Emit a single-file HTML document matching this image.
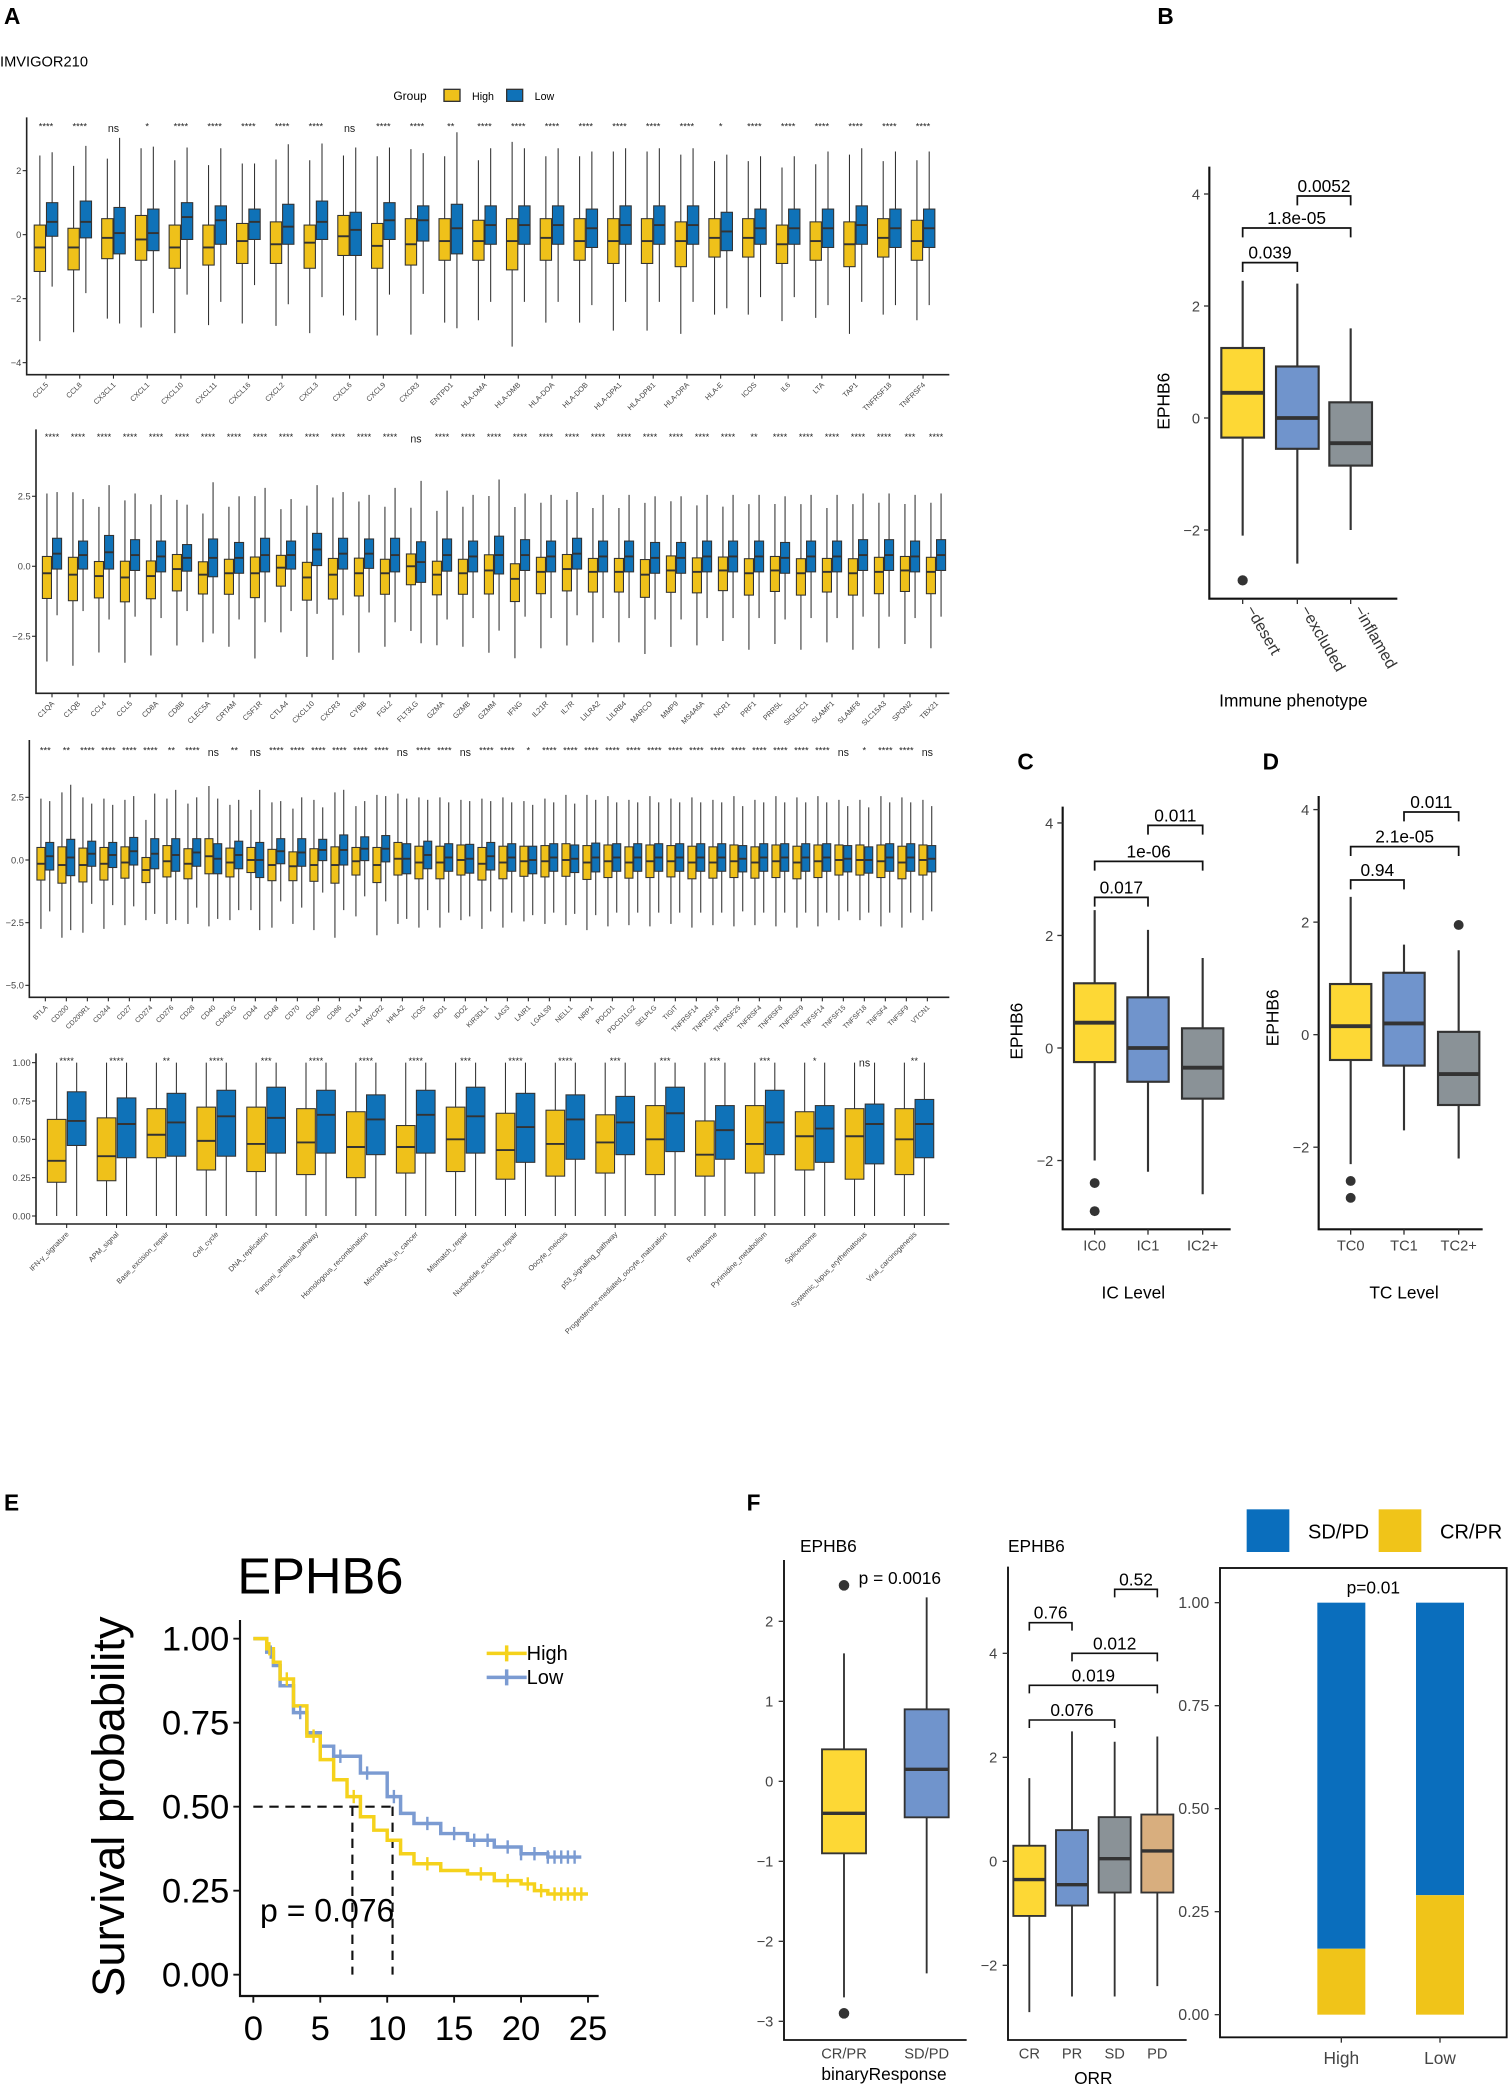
<!DOCTYPE html>
<html><head><meta charset="utf-8">
<style>
html,body{margin:0;padding:0;background:#fff;}
svg{display:block;font-family:"Liberation Sans",Arial,sans-serif;}
</style></head>
<body>
<svg id="fig" width="1512" height="2094" viewBox="0 0 1134 1570.5" xmlns="http://www.w3.org/2000/svg">
<rect x="0" y="0" width="1134" height="1571" fill="#fff"/>
<g font-weight="bold" font-size="17" fill="#000">
<text x="3" y="18">A</text>
<text x="868" y="18">B</text>
<text x="763" y="577">C</text>
<text x="947" y="577">D</text>
<text x="3" y="1133">E</text>
<text x="560" y="1133">F</text>
</g>
<text x="0" y="50" font-size="11">IMVIGOR210</text>
<g font-size="9">
<text x="295" y="75">Group</text>
<rect x="333" y="67" width="12" height="9" fill="#EFC11A" stroke="#333"/>
<text x="354" y="75" font-size="8">High</text>
<rect x="380" y="67" width="12" height="9" fill="#0F72B8" stroke="#333"/>
<text x="401" y="75" font-size="8">Low</text>
</g>
<g id="root"></g>
</svg>
<script>
// ---------- Panel A data ----------
const r1Genes=["CCL5","CCL8","CX3CL1","CXCL1","CXCL10","CXCL11","CXCL16","CXCL2","CXCL3","CXCL6","CXCL9","CXCR3","ENTPD1","HLA-DMA","HLA-DMB","HLA-DOA","HLA-DOB","HLA-DPA1","HLA-DPB1","HLA-DRA","HLA-E","ICOS","IL6","LTA","TAP1","TNFRSF18","TNFRSF4"];
const r1Stars=["****","****","ns","*","****","****","****","****","****","ns","****","****","**","****","****","****","****","****","****","****","*","****","****","****","****","****","****"];
const r1HighMed=[-0.4,-0.4,-0.1,-0.15,-0.4,-0.4,-0.2,-0.3,-0.25,-0.05,-0.35,-0.3,-0.2,-0.2,-0.2,-0.1,-0.2,-0.2,-0.2,-0.2,-0.1,-0.1,-0.3,-0.2,-0.3,-0.1,-0.2];
const r1HighQ1=[-1.15,-1.1,-0.75,-0.8,-1.05,-0.95,-0.9,-0.9,-1.05,-0.65,-1.05,-0.95,-0.8,-0.8,-1.1,-0.8,-0.8,-0.9,-0.9,-1.0,-0.7,-0.7,-0.9,-0.8,-1.0,-0.7,-0.8];
const r1HighQ3=[0.3,0.2,0.5,0.6,0.3,0.3,0.35,0.4,0.3,0.6,0.35,0.5,0.5,0.45,0.5,0.5,0.5,0.5,0.5,0.4,0.5,0.5,0.3,0.4,0.4,0.5,0.45];
const r1LowMed=[0.4,0.4,0.05,0.05,0.55,0.45,0.4,0.25,0.4,0.15,0.45,0.45,0.2,0.3,0.3,0.3,0.2,0.3,0.3,0.3,0.1,0.2,0.2,0.2,0.3,0.2,0.2];
const r1LowQ1=[-0.05,-0.1,-0.6,-0.5,-0.15,-0.3,-0.15,-0.3,-0.15,-0.65,-0.15,-0.2,-0.6,-0.3,-0.3,-0.3,-0.4,-0.3,-0.3,-0.3,-0.5,-0.3,-0.3,-0.4,-0.3,-0.4,-0.4];
const r1LowQ3=[1.0,1.05,0.85,0.8,1.0,0.9,0.8,0.95,1.05,0.7,1.0,0.9,0.95,0.9,0.9,0.9,0.8,0.9,0.9,0.9,0.7,0.8,0.8,0.8,0.9,0.8,0.8];

const r2Genes=["C1QA","C1QB","CCL4","CCL5","CD8A","CD8B","CLEC5A","CRTAM","CSF1R","CTLA4","CXCL10","CXCR3","CYBB","FGL2","FLT3LG","GZMA","GZMB","GZMM","IFNG","IL21R","IL7R","LILRA2","LILRB4","MARCO","MMP9","MS4A6A","NCR1","PRF1","PRR5L","SIGLEC1","SLAMF1","SLAMF8","SLC15A3","SPON2","TBX21"];
const r2Stars=["****","****","****","****","****","****","****","****","****","****","****","****","****","****","ns","****","****","****","****","****","****","****","****","****","****","****","****","**","****","****","****","****","****","***","****"];
const r2HighMed=[-0.25,-0.3,-0.35,-0.4,-0.35,-0.1,-0.3,-0.25,-0.25,-0.05,-0.4,-0.3,-0.25,-0.25,0,-0.3,-0.25,-0.15,-0.45,-0.2,-0.1,-0.2,-0.2,-0.3,-0.15,-0.2,-0.15,-0.25,-0.15,-0.25,-0.2,-0.25,-0.2,-0.15,-0.2];
const r2HighIqr=[1.5,1.55,1.3,1.45,1.35,1.3,1.15,1.25,1.45,1.1,1.35,1.45,1.35,1.25,1.1,1.2,1.25,1.4,1.35,1.3,1.3,1.2,1.2,1.35,1.3,1.25,1.2,1.3,1.25,1.3,1.2,1.3,1.3,1.25,1.3];
const r2LowMed=[0.45,0.4,0.5,0.4,0.35,0.3,0.3,0.3,0.4,0.4,0.6,0.45,0.45,0.4,0.15,0.4,0.35,0.4,0.4,0.35,0.45,0.35,0.35,0.3,0.3,0.35,0.35,0.35,0.3,0.35,0.35,0.4,0.4,0.35,0.4];
const r2LowIqr=[1.1,1.0,1.2,1.1,1.1,0.95,1.35,1.1,1.2,1.0,1.15,1.1,1.05,1.2,1.45,1.15,1.1,1.35,1.1,1.1,1.1,1.1,1.1,1.1,1.1,1.1,1.1,1.1,1.1,1.1,1.1,1.1,1.1,1.1,1.1];

const r3Genes=["BTLA","CD200","CD200R1","CD244","CD27","CD274","CD276","CD28","CD40","CD40LG","CD44","CD48","CD70","CD80","CD86","CTLA4","HAVCR2","HHLA2","ICOS","IDO1","IDO2","KIR3DL1","LAG3","LAIR1","LGALS9","NELL1","NRP1","PDCD1","PDCD1LG2","SELPLG","TIGIT","TNFRSF14","TNFRSF18","TNFRSF25","TNFRSF4","TNFRSF8","TNFRSF9","TNFSF14","TNFSF15","TNFSF18","TNFSF4","TNFSF9","VTCN1"];
const r3Stars=["***","**","****","****","****","****","**","****","ns","**","ns","****","****","****","****","****","****","ns","****","****","ns","****","****","*","****","****","****","****","****","****","****","****","****","****","****","****","****","****","ns","*","****","****","ns"];
const r3HighMed=[-0.15,-0.2,-0.2,-0.15,-0.1,-0.4,-0.05,-0.15,0.15,-0.1,0,-0.2,-0.25,-0.2,-0.2,-0.05,-0.2,0.05,-0.1,-0.1,0,-0.15,-0.1,-0.05,-0.05,0,-0.1,-0.05,-0.1,-0.05,-0.05,-0.1,-0.1,-0.05,-0.1,-0.05,-0.1,-0.05,0,0,-0.05,-0.1,0];
const r3HighIqr=[1.3,1.45,1.35,1.3,1.25,1.0,1.25,1.2,1.4,1.15,1.0,1.25,1.15,1.3,1.45,1.1,1.4,1.3,1.3,1.3,1.2,1.3,1.3,1.2,1.25,1.3,1.35,1.3,1.25,1.3,1.25,1.3,1.25,1.3,1.25,1.3,1.3,1.3,1.2,1.2,1.3,1.3,1.2];
const r3LowMed=[0.15,0.1,0.25,0.2,0.35,0.25,0.2,0.3,0.05,0.2,0,0.35,0.3,0.4,0.4,0.45,0.45,0.05,0.2,0.1,0.05,0.15,0.1,0,0.1,0.05,0.1,0.1,0.1,0.1,0.1,0.1,0.1,0.05,0.1,0.1,0.1,0.1,0.05,0,0.1,0.1,0.05];
const r3LowIqr=[1.1,1.45,1.0,1.0,1.1,1.2,1.3,1.1,1.2,1.1,1.4,1.0,1.1,0.85,1.2,0.95,1.05,1.2,1.1,1.1,1.15,1.1,1.1,1.1,1.1,1.1,1.15,1.1,1.1,1.1,1.1,1.1,1.1,1.05,1.1,1.1,1.1,1.1,1.05,1.05,1.1,1.1,1.05];

const r4Cats=["IFN-\u03b3_signature","APM_signal","Base_excision_repair","Cell_cycle","DNA_replication","Fanconi_anemia_pathway","Homologous_recombination","MicroRNAs_in_cancer","Mismatch_repair","Nucleotide_excision_repair","Oocyte_meiosis","p53_signaling_pathway","Progesterone-mediated_oocyte_maturation","Proteasome","Pyrimidine_metabolism","Spliceosome","Systemic_lupus_erythematosus","Viral_carcinogenesis"];
const r4Stars=["****","****","**","****","***","****","****","****","***","****","****","***","***","***","***","*","ns","**"];
const r4HighQ1=[0.22,0.23,0.38,0.30,0.29,0.27,0.25,0.28,0.29,0.24,0.26,0.28,0.27,0.26,0.28,0.30,0.24,0.27];
const r4HighMed=[0.36,0.39,0.53,0.49,0.47,0.48,0.45,0.45,0.50,0.43,0.47,0.48,0.50,0.40,0.47,0.52,0.52,0.50];
const r4HighQ3=[0.63,0.64,0.70,0.71,0.71,0.70,0.68,0.59,0.71,0.67,0.69,0.66,0.72,0.62,0.72,0.68,0.70,0.70];
const r4LowQ1=[0.46,0.38,0.39,0.39,0.41,0.41,0.40,0.41,0.41,0.35,0.37,0.40,0.42,0.37,0.40,0.35,0.34,0.38];
const r4LowMed=[0.62,0.60,0.61,0.65,0.64,0.66,0.63,0.66,0.65,0.58,0.63,0.61,0.67,0.56,0.61,0.57,0.60,0.60];
const r4LowQ3=[0.81,0.77,0.80,0.82,0.84,0.82,0.79,0.82,0.84,0.80,0.79,0.78,0.84,0.72,0.82,0.72,0.73,0.76];

// ---------- Panels B/C/D data ----------
const bCats=["desert","excluded","inflamed"];
const bQ1=[-0.35,-0.55,-0.85], bMed=[0.45,0,-0.45], bQ3=[1.25,0.92,0.28], bLo=[-2.1,-2.6,-2.0], bHi=[2.45,2.4,1.6];
const bOut=[[-2.9],[],[]];
const bPvals=["0.039","1.8e-05","0.0052"];
const cCats=["IC0","IC1","IC2+"];
const cQ1=[-0.25,-0.6,-0.9], cMed=[0.45,0,-0.35], cQ3=[1.15,0.9,0.35], cLo=[-2.0,-2.2,-2.6], cHi=[2.45,2.1,1.6];
const cOut=[[-2.4,-2.9],[],[]];
const cPvals=["0.017","1e-06","0.011"];
const dCats=["TC0","TC1","TC2+"];
const dQ1=[-0.45,-0.55,-1.25], dMed=[0.15,0.2,-0.7], dQ3=[0.9,1.1,0.05], dLo=[-2.3,-1.7,-2.2], dHi=[2.45,1.6,1.5];
const dOut=[[-2.6,-2.9],[],[1.95]];
const dPvals=["0.94","2.1e-05","0.011"];

// ---------- Panel E data ----------
const kmHighT=[0,1,1.5,2,3,4,5,6,7,8,9,10,11,12,14,16,18,20,21,22,25];
const kmHighS=[1,0.97,0.93,0.88,0.8,0.71,0.64,0.58,0.53,0.47,0.43,0.4,0.36,0.33,0.31,0.3,0.28,0.27,0.25,0.24,0.24];
const kmLowT=[0,1,1.5,2,3,4,5,6,8,10,11,12,14,16,18,20,22,24.5];
const kmLowS=[1,0.96,0.92,0.86,0.78,0.72,0.68,0.65,0.6,0.53,0.48,0.45,0.42,0.4,0.38,0.36,0.35,0.35];
const kmHighCens=[1.2,2.5,4.5,7.5,13,17,19,20.5,21.5,22.5,23,23.5,24,24.5];
const kmLowCens=[1.3,3.5,6.5,8.5,10.5,13,15,16.5,17.5,19,20,21,22,22.5,23,23.5,24];
const kmXTicks=[0,5,10,15,20,25];
const kmYTicks=[0,0.25,0.5,0.75,1];

// ---------- Panel F data ----------
const f1Cats=["CR/PR","SD/PD"];
const f1Q1=[-0.9,-0.45], f1Med=[-0.4,0.15], f1Q3=[0.4,0.9], f1Lo=[-2.7,-2.4], f1Hi=[1.6,2.3];
const f1Out=[[2.45,-2.9],[]];
const f2Cats=["CR","PR","SD","PD"];
const f2Q1=[-1.05,-0.85,-0.6,-0.6], f2Med=[-0.35,-0.45,0.05,0.2], f2Q3=[0.3,0.6,0.85,0.9], f2Lo=[-2.9,-2.6,-2.6,-2.4], f2Hi=[1.6,2.5,2.3,2.4];
const f2Pvals=["0.76","0.52","0.012","0.019","0.076"];
const f3Groups=["High","Low"];
const f3CRPR=[0.16,0.29];
const f3Ticks=[0,0.25,0.5,0.75,1];

// ---------- drawing helpers ----------
const NS="http://www.w3.org/2000/svg";
const root=document.getElementById("root");
function mk(tag,attrs,parent){const e=document.createElementNS(NS,tag);for(const k in attrs)e.setAttribute(k,attrs[k]);(parent||root).appendChild(e);return e;}
function txt(x,y,s,attrs,parent){const e=mk("text",Object.assign({x:x,y:y},attrs||{}),parent);e.textContent=s;return e;}
const STROKE="#333";

function drawBox(g,cx,w,ys,q1,med,q3,lo,hi,fill,sw,outs){
  const wl=mk("line",{x1:cx,x2:cx,y1:ys(lo),y2:ys(hi),stroke:STROKE,"stroke-width":sw},g);
  
  
  const r=mk("rect",{x:cx-w/2,y:ys(q3),width:w,height:ys(q1)-ys(q3),fill:fill,stroke:STROKE,"stroke-width":sw},g);
  
  
  const m=mk("line",{x1:cx-w/2,x2:cx+w/2,y1:ys(med),y2:ys(med),stroke:STROKE,"stroke-width":sw*1.8},g);
  
  
  (outs||[]).forEach(v=>{
    const c=mk("circle",{cx:cx,cy:ys(v),r:Math.max(1.6,w*0.12),fill:STROKE},g);
    
    
  });
}

// ---------- Panel A rows ----------
function drawRow(cfg){
  const g=mk("g",{});
  
  
  const ys=v=>cfg.y0-cfg.ppu*v;
  const xs=i=>cfg.x0+cfg.dx*i;
  const ax=mk("path",{d:`M${cfg.ax},${cfg.top}V${cfg.bottom}H${cfg.right}`,fill:"none",stroke:"#222","stroke-width":1.2},g);
  
  
  cfg.ticks.forEach(t=>{
    mk("line",{x1:cfg.ax-3,x2:cfg.ax,y1:ys(t),y2:ys(t),stroke:"#222","stroke-width":0.8},g);
    const tl=txt(cfg.ax-4,ys(t)+2.5,cfg.fmt(t),{"font-size":7,"text-anchor":"end",fill:"#444"},g);
    
    
  });
  cfg.cats.forEach((c,i)=>{
    const cx=xs(i);
    const lo=(q1,q3)=>Math.max(cfg.min,q1-1.5*(q3-q1));
    const hi=(q1,q3)=>Math.min(cfg.max,q3+1.5*(q3-q1));
    const h=cfg.high(i), l=cfg.low(i);
    drawBox(g,cx-cfg.off,cfg.bw,ys,h[0],h[1],h[2],lo(h[0],h[2]),hi(h[0],h[2]),"#EFC11A",0.8);
    drawBox(g,cx+cfg.off,cfg.bw,ys,l[0],l[1],l[2],lo(l[0],l[2]),hi(l[0],l[2]),"#0F72B8",0.8);
    mk("line",{x1:cx,x2:cx,y1:cfg.bottom,y2:cfg.bottom+3,stroke:"#222","stroke-width":0.8},g);
    const lab=txt(cx+2,cfg.bottom+8,c,{"font-size":cfg.lfs,"text-anchor":"end",fill:"#444",transform:`rotate(-45 ${cx+2} ${cfg.bottom+8})`},g);
    
    
    const s=cfg.stars[i];
    const st=txt(cx,cfg.starY+(s==="ns"?2:0),s,{"font-size":s==="ns"?8:7,"text-anchor":"middle",fill:"#222"},g);
    
    
  });
}
drawRow({name:"immune-genes-row-1",cats:r1Genes,stars:r1Stars,y0:176,ppu:24,x0:34.5,dx:25.3,bw:8.5,off:4.6,ax:20,top:88,bottom:281,right:712,min:-4.1,max:3.2,ticks:[2,0,-2,-4],fmt:t=>t<0?"\u2212"+(-t):""+t,starY:97,lfs:5.5,
  high:i=>[r1HighQ1[i],r1HighMed[i],r1HighQ3[i]],low:i=>[r1LowQ1[i],r1LowMed[i],r1LowQ3[i]]});
drawRow({name:"immune-genes-row-2",cats:r2Genes,stars:r2Stars,y0:424.7,ppu:21,x0:39,dx:19.5,bw:6.8,off:3.8,ax:27,top:322,bottom:520,right:712,min:-4.1,max:3.6,ticks:[2.5,0,-2.5],fmt:t=>t<0?"\u2212"+(-t).toFixed(1):t.toFixed(1),starY:330,lfs:5.5,
  high:i=>[r2HighMed[i]-r2HighIqr[i]*0.6,r2HighMed[i],r2HighMed[i]+r2HighIqr[i]*0.4],low:i=>[r2LowMed[i]-r2LowIqr[i]*0.5,r2LowMed[i],r2LowMed[i]+r2LowIqr[i]*0.5]});
drawRow({name:"checkpoint-genes-row-3",cats:r3Genes,stars:r3Stars,y0:645,ppu:18.8,x0:34,dx:15.75,bw:6,off:3.3,ax:22,top:555,bottom:748,right:712,min:-4.5,max:3.0,ticks:[2.5,0,-2.5,-5],fmt:t=>t<0?"\u2212"+(-t).toFixed(1):t.toFixed(1),starY:565,lfs:5.2,
  high:i=>[r3HighMed[i]-r3HighIqr[i]*0.5,r3HighMed[i],r3HighMed[i]+r3HighIqr[i]*0.5],low:i=>[r3LowMed[i]-r3LowIqr[i]*0.5,r3LowMed[i],r3LowMed[i]+r3LowIqr[i]*0.5]});
drawRow({name:"pathway-scores-row-4",cats:r4Cats,stars:r4Stars,y0:912,ppu:115,x0:50,dx:37.4,bw:14,off:7.5,ax:27,top:790,bottom:918,right:712,min:0,max:1,ticks:[1,0.75,0.5,0.25,0],fmt:t=>t.toFixed(2),starY:798,lfs:5.5,
  high:i=>[r4HighQ1[i],r4HighMed[i],r4HighQ3[i]],low:i=>[r4LowQ1[i],r4LowMed[i],r4LowQ3[i]]});

// ---------- Panels B, C, D ----------
const triColors=["#FDD835","#7094CC","#8A9297"];
function drawTri(cfg){
  const g=mk("g",{});
  
  
  const ys=v=>cfg.y0-cfg.ppu*v;
  const ax=mk("path",{d:`M${cfg.ax},${cfg.top}V${cfg.bottom}H${cfg.right}`,fill:"none",stroke:"#111","stroke-width":1.6},g);
  
  
  [4,2,0,-2].forEach(t=>{
    mk("line",{x1:cfg.ax-4,x2:cfg.ax,y1:ys(t),y2:ys(t),stroke:"#333","stroke-width":1},g);
    const tl=txt(cfg.ax-7,ys(t)+4,t<0?"\u2212"+(-t):""+t,{"font-size":11,"text-anchor":"end",fill:"#444"},g);
    
    
  });
  const yt=txt(0,0,"EPHB6",{"font-size":13,"text-anchor":"middle",transform:`translate(${cfg.ax-30},${ys(0.3)}) rotate(-90)`},g);
  
  
  cfg.xs.forEach((cx,i)=>{
    drawBox(g,cx,cfg.bw,ys,cfg.q1[i],cfg.med[i],cfg.q3[i],cfg.lo[i],cfg.hi[i],triColors[i],1.6,cfg.out[i]);
    mk("line",{x1:cx,x2:cx,y1:cfg.bottom,y2:cfg.bottom+4,stroke:"#333","stroke-width":1},g);
    let lab;
    if(cfg.rot){lab=txt(cx+2,cfg.bottom+8,"\u2212"+cfg.cats[i],{"font-size":12,fill:"#333",transform:`rotate(60 ${cx+2} ${cfg.bottom+8})`},g);}
    else{lab=txt(cx,cfg.bottom+16,cfg.cats[i],{"font-size":11,"text-anchor":"middle",fill:"#444"},g);}
    
    
  });
  const pairs=[[0,1],[0,2],[1,2]];
  pairs.forEach((p,k)=>{
    const y=cfg.brY[k], x1=cfg.xs[p[0]], x2=cfg.xs[p[1]];
    const b=mk("path",{d:`M${x1},${y+7}V${y}H${x2}V${y+7}`,fill:"none",stroke:"#111","stroke-width":1.3},g);
    
    
    const pt=txt((x1+x2)/2,y-3,cfg.p[k],{"font-size":13,"text-anchor":"middle"},g);
    
    
  });
  const xt=txt(cfg.titleX,cfg.titleY,cfg.title,{"font-size":13,"text-anchor":"middle"},g);
  
  
}
drawTri({name:"panel-b-immune-phenotype",cats:bCats,q1:bQ1,med:bMed,q3:bQ3,lo:bLo,hi:bHi,out:bOut,p:bPvals,xs:[932,973,1013],bw:32,y0:313.5,ppu:42,ax:907,top:125,bottom:449,right:1048,brY:[197,171,147],rot:true,title:"Immune phenotype",titleX:970,titleY:530});
drawTri({name:"panel-c-ic-level",cats:cCats,q1:cQ1,med:cMed,q3:cQ3,lo:cLo,hi:cHi,out:cOut,p:cPvals,xs:[821,861,902],bw:31,y0:786,ppu:42.2,ax:797,top:605,bottom:922,right:923,brY:[673,646,619],rot:false,title:"IC Level",titleX:850,titleY:974});
drawTri({name:"panel-d-tc-level",cats:dCats,q1:dQ1,med:dMed,q3:dQ3,lo:dLo,hi:dHi,out:dOut,p:dPvals,xs:[1013,1053,1094],bw:31,y0:776,ppu:42.2,ax:989,top:597,bottom:922,right:1112,brY:[660,635,609],rot:false,title:"TC Level",titleX:1053,titleY:974});

// ---------- Panel E: Kaplan-Meier ----------
(function(){
  const g=mk("g",{});
  
  
  const xs=t=>190+10.04*t, ys=s=>1481-252*s;
  const ax=mk("path",{d:`M180,1215V1497H449`,fill:"none",stroke:"#111","stroke-width":1.6},g);
  
  
  kmXTicks.forEach(t=>{
    mk("line",{x1:xs(t),x2:xs(t),y1:1497,y2:1502,stroke:"#111","stroke-width":1.4},g);
    const l=txt(xs(t),1530,""+t,{"font-size":26,"text-anchor":"middle"},g);
    
    
  });
  kmYTicks.forEach(t=>{
    mk("line",{x1:175,x2:180,y1:ys(t),y2:ys(t),stroke:"#111","stroke-width":1.4},g);
    const l=txt(172,ys(t)+9,t.toFixed(2),{"font-size":26,"text-anchor":"end"},g);
    
    
  });
  const yt=txt(0,0,"Survival probability",{"font-size":34,"text-anchor":"middle",transform:"translate(93,1355) rotate(-90)"},g);
  
  
  const tt=txt(178,1195,"EPHB6",{"font-size":38},g);
  
  
  const md=mk("path",{d:`M${xs(0)},${ys(0.5)}H${xs(10.4)}M${xs(7.4)},${ys(0.5)}V1481M${xs(10.4)},${ys(0.5)}V1481`,fill:"none",stroke:"#111","stroke-width":1.6,"stroke-dasharray":"7,5"},g);
  
  
  function step(T,S){let d=`M${xs(T[0])},${ys(S[0])}`;for(let i=1;i<T.length;i++){d+=`H${xs(T[i])}V${ys(S[i])}`;}return d;}
  function sAt(T,S,t){let v=S[0];for(let i=0;i<T.length;i++){if(T[i]<=t)v=S[i];}return v;}
  const lowC="#7B9BD2", highC="#F5D21C";
  const pl=mk("path",{d:step(kmLowT,kmLowS),fill:"none",stroke:lowC,"stroke-width":2.6},g);
  
  
  const ph=mk("path",{d:step(kmHighT,kmHighS),fill:"none",stroke:highC,"stroke-width":2.6},g);
  
  
  kmLowCens.forEach(t=>{const c=mk("path",{d:`M${xs(t)},${ys(sAt(kmLowT,kmLowS,t))-5}v10`,stroke:lowC,"stroke-width":1.8},g);
    
    });
  kmHighCens.forEach(t=>{const c=mk("path",{d:`M${xs(t)},${ys(sAt(kmHighT,kmHighS,t))-5}v10`,stroke:highC,"stroke-width":1.8},g);
    
    });
  const pv=txt(195,1441,"p = 0.076",{"font-size":24},g);
  
  
  const l1=mk("path",{d:"M365,1240h30M380,1234v12",stroke:highC,"stroke-width":2.6},g);
  
  
  const lt1=txt(395,1245,"High",{"font-size":15},g);
  
  
  const l2=mk("path",{d:"M365,1258h30M380,1252v12",stroke:lowC,"stroke-width":2.6},g);
  
  
  const lt2=txt(395,1263,"Low",{"font-size":15},g);
  
  
})();

// ---------- Panel F1 ----------
(function(){
  const g=mk("g",{});
  
  
  const ys=v=>1336-60*v;
  const ax=mk("path",{d:"M588,1170V1530H725",fill:"none",stroke:"#111","stroke-width":1.4},g);
  
  
  [2,1,0,-1,-2,-3].forEach(t=>{
    mk("line",{x1:584,x2:588,y1:ys(t),y2:ys(t),stroke:"#333"},g);
    const l=txt(580,ys(t)+4,t<0?"\u2212"+(-t):""+t,{"font-size":11,"text-anchor":"end",fill:"#444"},g);
    
    
  });
  const cols=["#FDD835","#7094CC"], xsF=[633,695];
  f1Cats.forEach((c,i)=>{
    drawBox(g,xsF[i],33,ys,f1Q1[i],f1Med[i],f1Q3[i],f1Lo[i],f1Hi[i],cols[i],1.4,f1Out[i]);
    const l=txt(xsF[i],1544,c,{"font-size":11,"text-anchor":"middle",fill:"#444"},g);
    
    
  });
  const t1=txt(600,1164,"EPHB6",{"font-size":13},g);
  
  
  const p=txt(644,1188,"p = 0.0016",{"font-size":13},g);
  
  
  const xt=txt(663,1560,"binaryResponse",{"font-size":13,"text-anchor":"middle"},g);
  
  
})();

// ---------- Panel F2 ----------
(function(){
  const g=mk("g",{});
  
  
  const ys=v=>1396-39*v;
  const ax=mk("path",{d:"M756,1175V1530H890",fill:"none",stroke:"#111","stroke-width":1.4},g);
  
  
  [4,2,0,-2].forEach(t=>{
    mk("line",{x1:752,x2:756,y1:ys(t),y2:ys(t),stroke:"#333"},g);
    const l=txt(748,ys(t)+4,t<0?"\u2212"+(-t):""+t,{"font-size":11,"text-anchor":"end",fill:"#444"},g);
    
    
  });
  const cols=["#FDD835","#7094CC","#8A9297","#D8AE7E"], xsF=[772,804,836,868];
  f2Cats.forEach((c,i)=>{
    drawBox(g,xsF[i],24,ys,f2Q1[i],f2Med[i],f2Q3[i],f2Lo[i],f2Hi[i],cols[i],1.4);
    const l=txt(xsF[i],1544,c,{"font-size":11,"text-anchor":"middle",fill:"#444"},g);
    
    
  });
  const pairs=[[0,1],[2,3],[1,3],[0,3],[0,2]], yb=[1217,1192,1240,1264,1290];
  pairs.forEach((p,k)=>{
    const x1=xsF[p[0]],x2=xsF[p[1]],y=yb[k];
    const b=mk("path",{d:`M${x1},${y+6}V${y}H${x2}V${y+6}`,fill:"none",stroke:"#111","stroke-width":1.2},g);
    
    
    const t=txt((x1+x2)/2,y-3,f2Pvals[k],{"font-size":13,"text-anchor":"middle"},g);
    
    
  });
  const t1=txt(756,1164,"EPHB6",{"font-size":13},g);
  
  
  const xt=txt(820,1563,"ORR",{"font-size":13,"text-anchor":"middle"},g);
  
  
})();

// ---------- Panel F3: stacked bars ----------
(function(){
  const g=mk("g",{});
  
  
  const ys=v=>1511-309*v;
  const blue="#0A6EBD", yel="#F0C419";
  const k1=mk("rect",{x:935,y:1132,width:32,height:32,fill:blue},g);
  
  
  const kt1=txt(981,1154,"SD/PD",{"font-size":15},g);
  
  
  const k2=mk("rect",{x:1034,y:1132,width:32,height:32,fill:yel},g);
  
  
  const kt2=txt(1080,1154,"CR/PR",{"font-size":15},g);
  
  
  const fr=mk("rect",{x:915,y:1176,width:215,height:352,fill:"none",stroke:"#111","stroke-width":1.4},g);
  
  
  f3Ticks.forEach(t=>{
    mk("line",{x1:911,x2:915,y1:ys(t),y2:ys(t),stroke:"#333"},g);
    const l=txt(907,ys(t)+4,t.toFixed(2),{"font-size":12,"text-anchor":"end",fill:"#444"},g);
    
    
  });
  const xsF=[1006,1080];
  f3Groups.forEach((gr,i)=>{
    const b1=mk("rect",{x:xsF[i]-18,y:ys(1),width:36,height:ys(f3CRPR[i])-ys(1),fill:blue},g);
    
    
    const b2=mk("rect",{x:xsF[i]-18,y:ys(f3CRPR[i]),width:36,height:ys(0)-ys(f3CRPR[i]),fill:yel},g);
    
    
    mk("line",{x1:xsF[i],x2:xsF[i],y1:1528,y2:1532,stroke:"#333"},g);
    const l=txt(xsF[i],1548,gr,{"font-size":13,"text-anchor":"middle",fill:"#444"},g);
    
    
  });
  const p=txt(1030,1195,"p=0.01",{"font-size":13,"text-anchor":"middle"},g);
  
  
})();
</script>
</body></html>
